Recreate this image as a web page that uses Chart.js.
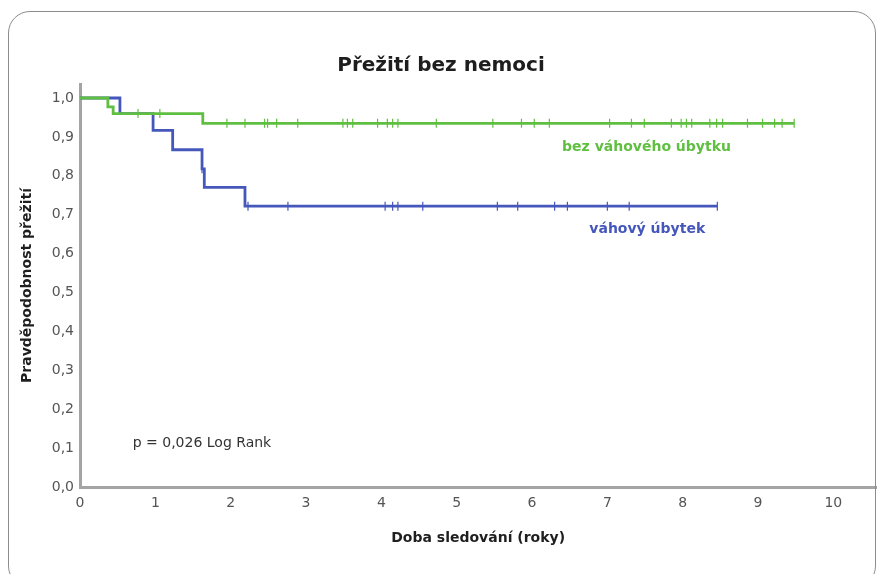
<!DOCTYPE html>
<html lang="cs">
<head>
<meta charset="utf-8">
<title>Přežití bez nemoci</title>
<script src="https://cdn.jsdelivr.net/npm/chart.js@4.4.1/dist/chart.umd.min.js"></script>
<style>
  html, body { margin: 0; padding: 0; background: #fff; }
  #wrap { position: relative; width: 882px; height: 574px; overflow: hidden; }
  #frame { position: absolute; left: 8px; top: 11px; width: 866px; height: 575px; border: 1px solid #8c8c8c; border-radius: 22px; pointer-events: none; }
  canvas { position: absolute; left: 0; top: 0; }
</style>
</head>
<body>
<div id="wrap">
  <canvas id="km" width="882" height="574"></canvas>
  <div id="frame"></div>
</div>
<script>
// Kaplan-Meier steps (years, survival after each event)
const greenTimes = [0, 0.37, 0.44, 1.63];
const greenSurv = [1.0, 0.977, 0.96, 0.935];
const greenEnd = 9.48;
const greenCensored = [0.77, 1.06, 1.95, 2.19, 2.45, 2.49, 2.61, 2.89, 3.49, 3.55, 3.62, 3.95, 4.08, 4.15, 4.22,
    4.73, 5.48, 5.86, 6.03, 6.23, 7.03, 7.32, 7.49, 7.85, 7.98, 8.05, 8.12, 8.36, 8.45, 8.53, 8.86, 9.06, 9.22, 9.32, 9.48];

const blueTimes = [0, 0.53, 0.97, 1.23, 1.62, 1.65, 2.19];
const blueSurv = [1.0, 0.96, 0.917, 0.867, 0.818, 0.77, 0.722];
const blueEnd = 8.46;
const blueCensored = [1.62, 2.23, 2.76, 4.05, 4.15, 4.22, 4.55, 5.54, 5.81, 6.30, 6.47, 7.00, 7.29, 8.46];

const xTicks = [0, 1, 2, 3, 4, 5, 6, 7, 8, 9, 10];
const yTicks = [0, 0.1, 0.2, 0.3, 0.4, 0.5, 0.6, 0.7, 0.8, 0.9, 1.0];

const groupLabels = ['bez váhového úbytku', 'váhový úbytek'];
const pText = 'p = 0,026 Log Rank';

const green = '#5fbf40';
const blue = '#4557bb';
const FONT = '"DejaVu Sans", sans-serif';

// step points for a survival curve
function stepPoints(times, surv, end) {
    const pts = times.map((t, i) => ({ x: t, y: surv[i] }));
    pts.push({ x: end, y: surv[surv.length - 1] });
    return pts;
}

// survival value at time t (for placing censor marks)
function survAt(times, surv, t) {
    let s = surv[0];
    times.forEach((tt, i) => { if (tt <= t) s = surv[i]; });
    return s;
}

function censorPoints(times, surv, cens) {
    return cens.map(t => ({ x: t, y: survAt(times, surv, t) }));
}

// text labels placed in data coordinates
const notes = [
    { text: groupLabels[0], x: 7.52, y: 0.872, color: green, align: 'center', font: 'bold 14px ' + FONT },
    { text: groupLabels[1], x: 7.53, y: 0.663, color: blue, align: 'center', font: 'bold 14px ' + FONT },
    { text: pText, x: 0.70, y: 0.113, color: '#333', align: 'left', font: '14px ' + FONT }
];

const notesPlugin = {
    id: 'notes',
    afterDatasetsDraw(chart) {
        const { ctx, scales: { x, y } } = chart;
        ctx.save();
        ctx.textBaseline = 'middle';
        notes.forEach(n => {
            ctx.font = n.font;
            ctx.fillStyle = n.color;
            ctx.textAlign = n.align;
            ctx.fillText(n.text, x.getPixelForValue(n.x), y.getPixelForValue(n.y));
        });
        ctx.restore();
    }
};

const censorStyle = {
    type: 'scatter',
    pointStyle: 'line',
    rotation: 90,
    pointRadius: 4.5,
    borderWidth: 1.2
};

new Chart(document.getElementById('km'), {
    type: 'line',
    data: {
        datasets: [
            {
                label: groupLabels[0],
                data: stepPoints(greenTimes, greenSurv, greenEnd),
                borderColor: green,
                borderWidth: 2.8,
                stepped: true,
                pointRadius: 0,
                fill: false
            },
            Object.assign({}, censorStyle, {
                data: censorPoints(greenTimes, greenSurv, greenCensored),
                borderColor: green,
                backgroundColor: green
            }),
            {
                label: groupLabels[1],
                data: stepPoints(blueTimes, blueSurv, blueEnd),
                borderColor: blue,
                borderWidth: 2.8,
                stepped: true,
                pointRadius: 0,
                fill: false
            },
            Object.assign({}, censorStyle, {
                data: censorPoints(blueTimes, blueSurv, blueCensored),
                borderColor: blue,
                backgroundColor: blue
            })
        ]
    },
    options: {
        responsive: false,
        animation: false,
        layout: { padding: 0 },
        plugins: {
            legend: { display: false },
            tooltip: { enabled: false },
            title: {
                display: true,
                text: 'Přežití bez nemoci',
                color: '#1e1e1e',
                font: { family: FONT, size: 20, weight: 'bold' },
                padding: { top: 54, bottom: 6 }
            }
        },
        scales: {
            x: {
                type: 'linear',
                min: 0,
                max: 10.57,
                afterBuildTicks: scale => { scale.ticks = xTicks.map(v => ({ value: v })); },
                afterFit: scale => { scale.height = 87; },
                grid: { display: false, drawTicks: false },
                border: { display: true, color: '#a4a4a4', width: 3 },
                ticks: {
                    color: '#555',
                    padding: 8,
                    font: { family: FONT, size: 14 },
                    callback: v => String(v)
                },
                title: {
                    display: true,
                    text: 'Doba sledování (roky)',
                    color: '#1e1e1e',
                    font: { family: FONT, size: 14, weight: 'bold' },
                    padding: { top: 0, bottom: 27 }
                }
            },
            y: {
                type: 'linear',
                min: 0,
                max: 1.036,
                afterBuildTicks: scale => { scale.ticks = yTicks.map(v => ({ value: v })); },
                afterFit: scale => { scale.width = 80; },
                grid: { display: false, drawTicks: false },
                border: { display: true, color: '#a4a4a4', width: 3 },
                ticks: {
                    color: '#555',
                    padding: 6,
                    font: { family: FONT, size: 14 },
                    callback: v => v.toFixed(1).replace('.', ',')
                },
                title: {
                    display: true,
                    text: 'Pravděpodobnost přežití',
                    color: '#1e1e1e',
                    font: { family: FONT, size: 14, weight: 'bold' },
                    padding: { top: 19, bottom: 0 }
                }
            }
        }
    },
    plugins: [notesPlugin]
});
</script>
</body>
</html>
